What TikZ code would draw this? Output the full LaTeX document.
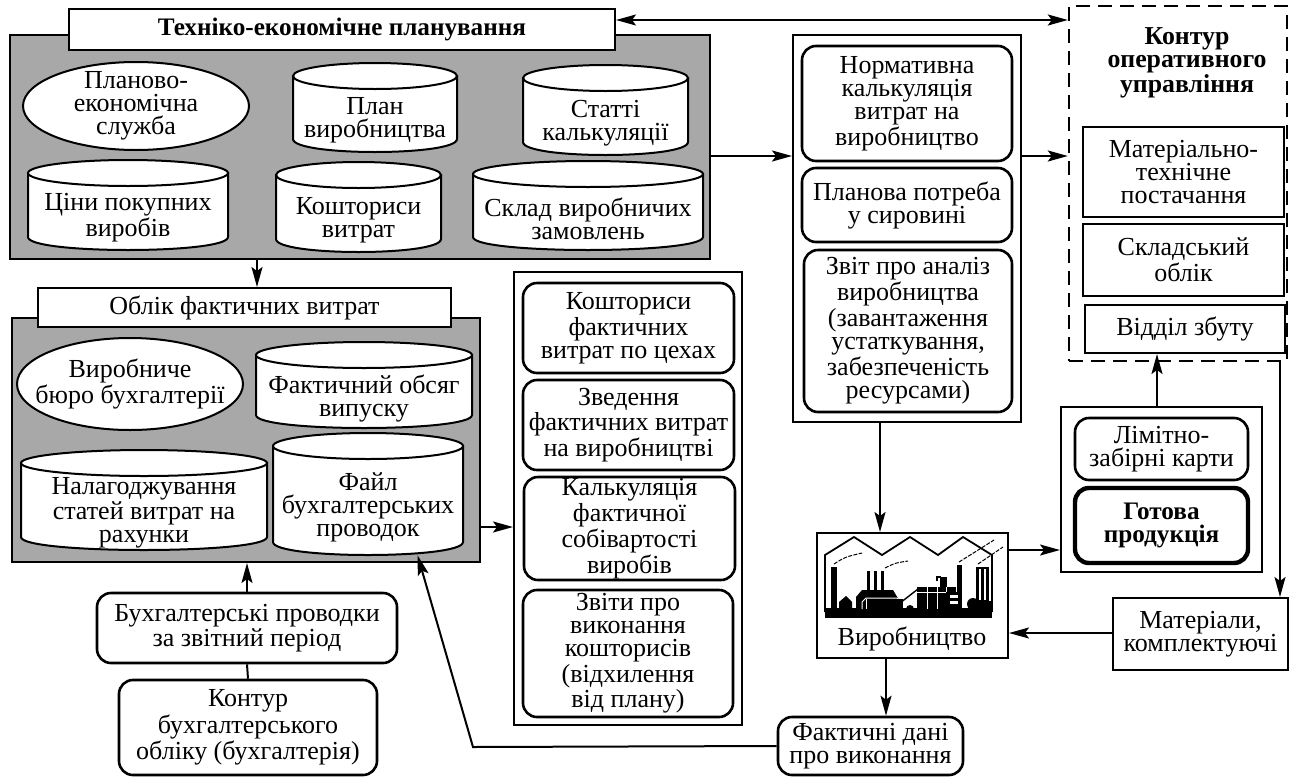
\documentclass[tikz,border=0pt]{standalone}
\usepackage{fontspec}
\setmainfont{Liberation Serif}
\usetikzlibrary{arrows.meta,fit,calc}
\definecolor{panelgray}{RGB}{168,168,168}
\newcommand\dfont{\fontsize{13pt}{11.5pt}\selectfont}
\newcommand\hfont{\fontsize{12.6pt}{11.5pt}\selectfont\bfseries}
\newcommand\tfont{\fontsize{12.9pt}{12.2pt}\selectfont\bfseries}
\newcommand\cyRY{13}
% database cylinder: name, left, top, right, bottom, text
\newcommand{\dbcyl}[6]{%
  \pgfmathsetmacro\cyL{#2}%
  \pgfmathsetmacro\cyT{#3}%
  \pgfmathsetmacro\cyR{#4}%
  \pgfmathsetmacro\cyB{#5}%
  \pgfmathsetmacro\cyX{(\cyL+\cyR)/2}%
  \pgfmathsetmacro\cyA{(\cyR-\cyL)/2}%
  \pgfmathsetmacro\cyS{\cyB-\cyRY}%
  \pgfmathsetmacro\cyC{\cyS+4/3*\cyRY}%
  \pgfmathsetmacro\cyU{\cyT+\cyRY}%
  \pgfmathsetmacro\cyM{(\cyT+2*\cyRY+\cyB)/2}%
  \path[cylbody] (\cyL,\cyU) -- (\cyL,\cyS) .. controls (\cyL,\cyC) and (\cyR,\cyC) .. (\cyR,\cyS) -- (\cyR,\cyU) -- cycle;
  \path[cylbody] (\cyX,\cyU) ellipse [x radius=\cyA, y radius=\cyRY];
  \node[ghost, fit={(\cyL,\cyT)(\cyR,\cyB)}] (#1) {};
  \node (#1-t) at (\cyX,\cyM) {#6};
}
% framed box with centred text: style, name, corner, corner, text
\newcommand{\tbox}[5]{%
  \node[#1, fit={#3#4}] (#2) {};
  \node (#2-t) at (#2.center) {#5};
}
\tikzset{
  every node/.style={font=\dfont, inner sep=0pt, align=center},
  box/.style={draw, line width=1pt, fill=white},
  rbox/.style={box, rounded corners=7pt, line width=1.3pt},
  panel/.style={draw, line width=1pt, fill=panelgray},
  cylbody/.style={draw, line width=1pt, fill=white},
  ghost/.style={inner sep=0pt},
  outline/.style={draw, line width=1.2pt, dash pattern=on 7pt off 4pt},
  arr/.style={line width=1pt, -{Stealth[length=10pt,width=5.5pt,inset=2pt]}},
  darr/.style={line width=1pt, {Stealth[length=10pt,width=5.5pt,inset=2pt]}-{Stealth[length=10pt,width=5.5pt,inset=2pt]}},
  ln/.style={line width=1pt},
  smoke/.style={line width=0.5pt, dash pattern=on 2pt off 0.7pt},
}
\begin{document}
\begin{tikzpicture}[x=0.5pt,y=-0.5pt]
\useasboundingbox (0,0) rectangle (1290,777);

% ---------- technical and economic planning ----------
\node[panel, fit={(10,35)(710,259)}] (P1) {};
\tbox{box}{H1}{(69,9)}{(615,50)}{\hfont Техніко-економічне планування}
\path[cylbody] (136,106) ellipse [x radius=113, y radius=44];
\node (E1) at (136,106) {Планово-\\економічна\\служба};
\dbcyl{C1}{293}{63}{457}{152}{План\\виробництва}
\dbcyl{C2}{523}{65}{688}{155}{Статті\\калькуляції}
\dbcyl{C3}{28}{160}{228}{250}{Ціни покупних\\виробів}
\dbcyl{C4}{276}{162}{441}{252}{Кошториси\\витрат}
\dbcyl{C5}{473}{161}{703}{250}{Склад виробничих\\замовлень}

% ---------- actual cost accounting ----------
\node[panel, fit={(12,318)(480,562)}] (P2) {};
\tbox{box}{H2}{(38,288)}{(451,327)}{Облік фактичних витрат}
\path[cylbody] (130,384) ellipse [x radius=113, y radius=46];
\node (E2) at (130,384) {Виробниче\\бюро бухгалтерії};
\dbcyl{C6}{256}{342}{472}{428}{Фактичний обсяг\\випуску}
\dbcyl{C7}{21}{450}{267}{550}{Налагоджування\\статей витрат на\\рахунки}
\dbcyl{C8}{273}{433}{463}{555}{Файл\\бухгалтерських\\проводок}

% ---------- accounting outputs ----------
\node[box, fit={(514,272)(742,725)}] (K2) {};
\tbox{rbox}{B1}{(523,283)}{(734,373)}{Кошториси\\фактичних\\витрат по цехах}
\tbox{rbox}{B2}{(523,380)}{(734,470)}{Зведення\\фактичних витрат\\на виробництві}
\tbox{rbox}{B3}{(524,477)}{(735,580)}{Калькуляція\\фактичної\\собівартості\\виробів}
\tbox{rbox}{B4}{(523,590)}{(733,717)}{Звіти про\\виконання\\кошторисів\\(відхилення\\від плану)}

% ---------- planning outputs ----------
\node[box, fit={(793,35)(1021,422)}] (K1) {};
\tbox{rbox}{R1}{(802,46)}{(1012,161)}{Нормативна\\калькуляція\\витрат на\\виробництво}
\tbox{rbox}{R2}{(802,168)}{(1012,242)}{Планова потреба\\у сировині}
\tbox{rbox}{R3}{(804,250)}{(1012,412)}{Звіт про аналіз\\виробництва\\(завантаження\\устаткування,\\забезпеченість\\ресурсами)}

% ---------- operational management ----------
\node[outline, fit={(1069,6)(1287,361)}] (D) {};
\node (DT) at (1187,63) {\tfont Контур\\\tfont оперативного\\\tfont управління};
\tbox{box}{M1}{(1083,127)}{(1284,217)}{Матеріально-\\технічне\\постачання}
\tbox{box}{M2}{(1083,224)}{(1284,296)}{Складський\\облік}
\tbox{box}{M3}{(1085,305)}{(1285,353)}{Відділ збуту}

\node[box, fit={(1061,407)(1262,572)}] (RB) {};
\tbox{rbox}{L1}{(1075,418)}{(1248,480)}{Лімітно-\\забірні карти}
\tbox{rbox, line width=2.2pt}{L2}{(1075,488)}{(1248,563)}{\hfont Готова\\\hfont продукція}

\tbox{box}{MAT}{(1113,598)}{(1288,670)}{Матеріали,\\комплектуючі}

% ---------- production ----------
\node[box, fit={(817,533)(1008,658)}] (VIR) {};
\node (VIR-t) at (912,639) {Виробництво};
\begin{scope}
  \draw[line width=0.9pt] (825,612) -- (825,555) -- (854,537) -- (882,555) -- (910,537) -- (938,555) -- (963,537) -- (992,555) -- (992,612);
  \fill (825,608) rectangle (992,618);
  \fill (831,567) rectangle (837,609);
  \fill (839,609) -- (839,602) -- (846,596) -- (852,602) -- (852,609) -- cycle;
  \fill (867,571) rectangle (870,594);
  \fill (874,571) rectangle (877,594);
  \fill (881,571) rectangle (884,594);
  \fill (856,609) -- (856,597) -- (862,590) -- (893,590) -- (899,600) -- (899,609) -- cycle;
  \draw[white, line width=0.5pt] (862,609) -- (862,602) -- (866,598) -- (897,598) -- (903,604);
  \fill (866,599) rectangle (903,609);
  \draw[white, line width=0.5pt] (866,599) -- (866,609);
  \draw[line width=0.7pt] (900,603) -- (918,589);
  \fill (910,609) circle (4);
  \fill (917,587) rectangle (956,609);
  \draw[white, line width=0.5pt] (927,587) -- (927,609) (937,587) -- (937,609) (946,587) -- (946,609) (917,592) -- (946,592);
  \fill (940,577) rectangle (947,587);
  \draw[line width=0.7pt] (937,581) -- (937,577) -- (941,577);
  \fill (957,565) rectangle (962,600);
  \fill (946,592) rectangle (962,609);
  \fill[white] (950,595) rectangle (958,598);
  \fill[white] (950,601) rectangle (958,604);
  \fill (976,567) rectangle (989,601);
  \draw[white, line width=0.6pt] (980,569) -- (980,600) (985,569) -- (985,600);
  \fill (968,601) rectangle (992,609);
  \fill (973,604) circle (6);
  \draw[smoke] (834,564) .. controls (845,557) .. (862,553);
  \draw[smoke] (885,568) .. controls (895,563) .. (908,561);
  \draw[smoke] (959,562) .. controls (975,552) .. (994,540);
  \draw[smoke] (978,564) .. controls (990,555) .. (1003,547);
\end{scope}

\tbox{rbox}{FD}{(778,717)}{(963,775)}{Фактичні дані\\про виконання}

% ---------- bookkeeping ----------
\tbox{rbox}{BP}{(97,593)}{(397,663)}{Бухгалтерські проводки\\за звітний період}
\tbox{rbox}{KB}{(119,680)}{(377,775)}{Контур\\бухгалтерського\\обліку (бухгалтерія)}

% ---------- connectors ----------
\coordinate (ytop) at (0,20);
\coordinate (yplan) at (0,156);
\coordinate (yacc) at (0,527);
\coordinate (ygoods) at (0,550);
\coordinate (ymat) at (0,633);
\coordinate (xdown) at (257,0);
\coordinate (xprod) at (880,0);
\coordinate (xfact) at (886,0);
\coordinate (xsale) at (1157,0);
\coordinate (xright) at (1280,0);
\coordinate (bend) at (473,747);

\draw[darr] (H1.east |- ytop) -- (D.west |- ytop);
\draw[arr] (P1.east |- yplan) -- (K1.west |- yplan);
\draw[arr] (K1.east |- yplan) -- (D.west |- yplan);
\draw[arr] (P1.south -| xdown) -- (H2.north -| xdown);
\draw[arr] (P2.east |- yacc) -- (K2.west |- yacc);
\draw[arr] (K1.south -| xprod) -- (VIR.north -| xprod);
\draw[arr] (VIR.south -| xfact) -- (FD.north -| xfact);
\draw[arr] (VIR.east |- ygoods) -- (RB.west |- ygoods);
\draw[arr] (MAT.west |- ymat) -- (VIR.east |- ymat);
\draw[arr] (RB.north -| xsale) -- (M3.south -| xsale);
\draw[arr] (D.south -| xright) -- (MAT.north -| xright);
\draw[arr] (FD.west) -- (bend) -- ($(C8.south west)!0.76!(C8.south east)$);
\draw[arr] (BP.north) -- (P2.south -| BP.north);
\draw[ln] (BP.south) -- (KB.north);
\end{tikzpicture}
\end{document}
